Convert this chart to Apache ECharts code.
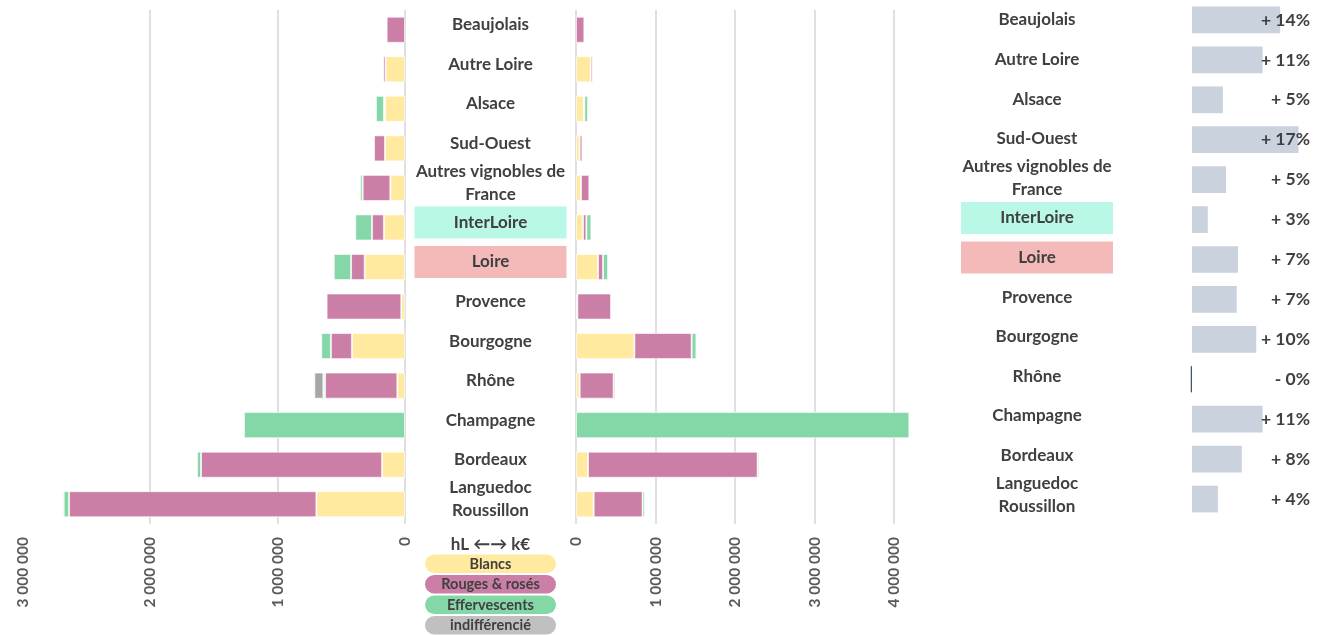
<!DOCTYPE html>
<html>
<head>
<meta charset="utf-8">
<script src="https://cdn.jsdelivr.net/npm/echarts@6/dist/echarts.min.js"></script>
<style>
  html, body { margin: 0; padding: 0; background: #fff; }
  #chart { width: 1330px; height: 635px; }
</style>
</head>
<body>
<div id="chart"></div>
<script>
// régions, de haut en bas
const categories = ['Beaujolais', 'Autre Loire', 'Alsace', 'Sud-Ouest', 'Autres vignobles de\nFrance',
  'InterLoire', 'Loire', 'Provence', 'Bourgogne', 'Rhône', 'Champagne', 'Bordeaux', 'Languedoc\nRoussillon']

const seriesNames = ['Blancs', 'Rouges & rosés', 'Effervescents', 'indifférencié']

// volumes (hL)
const blancsHl = [0, 152000, 157000, 157000, 115000, 165000, 316000, 29000, 416000, 60000, 0, 180000, 695000]
const rougesHl = [144000, 18000, 8000, 86000, 217000, 94000, 107000, 586000, 165000, 567000, 0, 1420000, 1940000]
const effervHl = [0, 0, 63000, 0, 21000, 131000, 136000, 0, 76000, 13000, 1263000, 31000, 42000]
const indiffHl = [0, 0, 0, 0, 0, 0, 0, 0, 0, 71000, 0, 0, 10000]

// valeur (k€)
const blancsKe = [0, 185000, 100000, 46000, 63000, 88000, 277000, 17000, 734000, 46000, 0, 151000, 222000]
const rougesKe = [105000, 25000, 5000, 34000, 105000, 42000, 63000, 424000, 721000, 428000, 0, 2134000, 616000]
const effervKe = [0, 0, 46000, 0, 13000, 63000, 63000, 0, 59000, 0, 4193000, 21000, 29000]
const indiffKe = [0, 0, 0, 0, 0, 0, 0, 0, 0, 21000, 0, 0, 0]

// évolution (%)
const evolPct = [14.0, 11.2, 4.9, 16.9, 5.4, 2.5, 7.3, 7.1, 10.2, -0.2, 11.2, 7.9, 4.1]

const hlTicks = { min: 0, max: 3000000, interval: 1000000 }
const keTicks = { min: 0, max: 4500000, interval: 1000000 }

const colors = ['#ffeaa0', '#cc7fa6', '#84d8a8', '#a6a6a6']
const legendColors = ['#ffeaa0', '#cc7fa6', '#84d8a8', '#c0c0c0']
const font = 'Lato'
const textColor = '#404040'

const fmtNum = v => String(v).replace(/\B(?=(\d{3})+(?!\d))/g, ' ')
const fmtPct = v => (v < 0 ? '- ' : '+ ') + Math.round(Math.abs(v)) + '%'
const nz = v => (v === 0 ? null : v)

const boxRich = {
  inter: { backgroundColor: '#b9f7e6', width: 152, height: 32, align: 'center', fontFamily: font, fontWeight: 'bold', fontSize: 17, color: textColor },
  loire: { backgroundColor: '#f4b9b9', width: 152, height: 32, align: 'center', fontFamily: font, fontWeight: 'bold', fontSize: 17, color: textColor }
}
const catFormatter = v => (v === 'InterLoire' ? '{inter|InterLoire}' : v === 'Loire' ? '{loire|Loire}' : v)

function valueAxis(gridIndex, ticks, inverse) {
  return {
    type: 'value',
    gridIndex,
    inverse,
    min: ticks.min,
    max: ticks.max,
    interval: ticks.interval,
    axisLine: { show: false },
    axisTick: { show: false },
    splitLine: { show: true, showMaxLine: false, lineStyle: { color: '#d6d6d6', width: 1.5 } },
    axisLabel: {
      rotate: 90,
      margin: 13,
      showMaxLabel: ticks.max % ticks.interval === 0,
      color: '#595959',
      fontFamily: font,
      fontWeight: 'bold',
      fontSize: 15.5,
      formatter: fmtNum
    }
  }
}

function hiddenX(gridIndex) {
  return { type: 'value', gridIndex, show: false }
}

function catAxis(gridIndex, opts) {
  return Object.assign({
    type: 'category',
    gridIndex,
    inverse: true,
    z: 10,
    data: categories,
    axisLine: { show: false },
    axisTick: { show: false },
    splitLine: { show: false },
    axisLabel: { show: false }
  }, opts)
}

const labelStyle = (margin) => ({
  show: true,
  interval: 0,
  align: 'center',
  margin,
  fontFamily: font,
  fontWeight: 'bold',
  fontSize: 17,
  lineHeight: 23,
  color: textColor,
  formatter: catFormatter,
  rich: boxRich
})

const series = []
const hlData = [blancsHl, rougesHl, effervHl, indiffHl]
const keData = [blancsKe, rougesKe, effervKe, indiffKe]
seriesNames.forEach((name, i) => {
  const itemStyle = { color: colors[i], borderColor: 'rgba(255,255,255,0.6)', borderWidth: 1 }
  series.push({ name, type: 'bar', stack: 'hl', xAxisIndex: 0, yAxisIndex: 0, barCategoryGap: '34%', itemStyle, data: hlData[i].map(nz) })
  series.push({ name, type: 'bar', stack: 'ke', xAxisIndex: 1, yAxisIndex: 1, barCategoryGap: '34%', itemStyle, data: keData[i].map(nz) })
})
series.push({
  name: 'évolution',
  type: 'bar',
  xAxisIndex: 3,
  yAxisIndex: 3,
  barCategoryGap: '33%',
  itemStyle: { color: '#cad2de' },
  data: evolPct.map(v => (v < 0 ? { value: v, itemStyle: { borderColor: '#44546a', borderWidth: 1 } } : v))
})

const legendTop = 554.5
const legendStep = 20.5
const graphic = [{
  type: 'text',
  x: 490.5,
  y: 545,
  style: { text: 'hL ←→ k€', align: 'center', verticalAlign: 'middle', fontFamily: font, fontWeight: 'bold', fontSize: 17, fill: textColor }
}]
seriesNames.forEach((name, i) => {
  graphic.push({
    type: 'rect',
    shape: { x: 425, y: legendTop + i * legendStep, width: 131, height: 18.5, r: 9.25 },
    style: { fill: legendColors[i] }
  })
  graphic.push({
    type: 'text',
    x: 490.5,
    y: legendTop + i * legendStep + 9.5,
    style: { text: name, align: 'center', verticalAlign: 'middle', fontFamily: font, fontWeight: 'bold', fontSize: 14.5, fill: textColor }
  })
})

const chart = echarts.init(document.getElementById('chart'))
chart.setOption({
  animation: false,
  grid: [
    { left: 22.5, top: 10, width: 382.5, height: 514 },
    { left: 576, top: 10, width: 357.75, height: 514 },
    { left: 576, top: 5, width: 1, height: 514 },
    { left: 1188.85, top: 0, width: 126, height: 519 },
    { left: 1192, top: -4, width: 1, height: 519 }
  ],
  xAxis: [
    valueAxis(0, hlTicks, true),
    valueAxis(1, keTicks, false),
    hiddenX(2),
    { type: 'value', gridIndex: 3, show: false, min: -0.5, max: 19.5 },
    hiddenX(4)
  ],
  yAxis: [
    catAxis(0),
    catAxis(1),
    catAxis(2, { axisLabel: labelStyle(85.5) }),
    catAxis(3, {
      position: 'right',
      axisLabel: {
        show: true,
        interval: 0,
        align: 'right',
        margin: -4.85,
        fontFamily: font,
        fontWeight: 'bold',
        fontSize: 17.5,
        color: textColor,
        formatter: (v, idx) => fmtPct(evolPct[idx])
      }
    }),
    catAxis(4, { axisLabel: labelStyle(155) })
  ],
  graphic,
  series
})
</script>
</body>
</html>
